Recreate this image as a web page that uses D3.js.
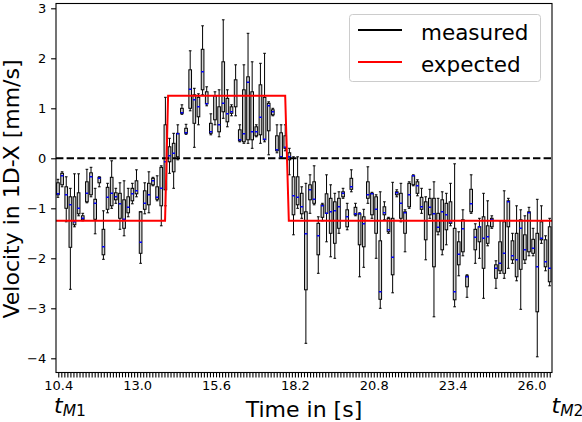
<!DOCTYPE html>
<html>
<head>
<meta charset="utf-8">
<script src="https://cdn.jsdelivr.net/npm/d3@7"></script>
<style>
	body { margin: 0; background: #fff; }
	text { font-family: 'DejaVu Sans', sans-serif; fill: #000; }
</style>
</head>
<body>
<div id="chart"></div>
<script>

// boxes start at 10.39 s, one every 0.1362 s
var boxStart = 10.39
var boxStep = 0.1362

var whiskLo = [
	-0.78, -0.57, -1.27, -2.62, -1.37, -1.15, -1.25, -0.89, -0.77, -1.51,
	-0.57, -2.02, -1.09, -1.00, -0.90, -1.42, -1.55, -1.17, -0.91, -0.77,
	-2.10, -1.11, -1.09, -0.55, -0.85, -1.35, -0.95, -0.30, -0.60, -0.03,
	0.88, 0.48, 0.95, 0.22, 0.67, 1.27, 1.05, 0.47, 0.67, 0.43,
	0.80, 0.63, 0.85, 0.85, 0.33, 0.30, 0.30, 0.20, 0.43, 0.30,
	0.33, 0.07, 0.85, 0.11, 0.00, 0.15, -0.33, -1.53, -1.00, -1.20,
	-3.70, -1.10, -0.93, -2.30, -1.25, -1.67, -1.97, -2.00, -1.50, -0.80,
	-1.43, -0.67, -1.15, -2.37, -2.18, -0.90, -1.20, -2.00, -3.00, -1.23,
	-1.50, -2.69, -0.77, -1.27, -1.87, -1.00, -0.55, -0.75, -1.10, -2.03,
	-1.20, -3.17, -1.53, -1.93, -1.73, -1.35, -2.97, -2.35, -1.95, -2.78,
	-1.10, -2.10, -2.00, -2.80, -1.75, -1.40, -2.60, -2.30, -2.40, -2.20,
	-2.10, -2.45, -3.02, -2.10, -1.95, -1.95, -3.97, -1.70, -2.25, -2.55
]

var q1 = [
	-0.73, -0.53, -1.00, -1.78, -1.33, -1.11, -1.23, -0.87, -0.73, -1.22,
	-0.49, -1.93, -1.02, -0.95, -0.83, -1.20, -1.40, -1.09, -0.85, -0.71,
	-1.90, -1.02, -0.93, -0.53, -0.82, -0.95, -0.63, -0.07, -0.27, 0.03,
	0.90, 0.50, 1.00, 0.70, 0.83, 1.37, 1.09, 0.50, 0.77, 0.53,
	0.93, 0.73, 0.90, 1.03, 0.35, 0.33, 0.37, 0.37, 0.45, 0.47,
	0.37, 0.55, 0.87, 0.15, 0.03, 0.20, -0.03, -1.13, -0.93, -1.11,
	-2.63, -0.83, -0.90, -1.93, -1.18, -1.10, -1.50, -1.70, -1.40, -0.77,
	-1.37, -0.62, -1.13, -1.73, -1.77, -0.80, -1.13, -1.50, -2.82, -1.13,
	-1.47, -2.33, -0.73, -1.20, -1.50, -0.97, -0.53, -0.70, -1.02, -1.63,
	-1.13, -2.17, -1.47, -1.83, -1.43, -1.30, -2.83, -2.13, -1.87, -2.57,
	-1.07, -1.83, -1.67, -2.20, -1.70, -1.37, -2.40, -2.25, -2.30, -1.37,
	-2.03, -2.37, -2.22, -2.03, -1.87, -1.90, -3.07, -1.63, -2.17, -2.47
]

var med = [
	-0.71, -0.35, -0.73, -0.93, -1.27, -1.00, -1.20, -0.70, -0.37, -0.90,
	-0.40, -1.77, -0.78, -0.70, -0.77, -0.91, -1.22, -0.98, -0.71, -0.65,
	-1.68, -0.90, -0.73, -0.45, -0.78, -0.60, -0.07, 0.05, 0.10, 0.49,
	0.91, 0.51, 1.38, 1.17, 1.03, 1.73, 1.09, 0.53, 1.25, 0.67,
	1.10, 0.89, 0.93, 1.25, 0.37, 0.49, 1.52, 0.53, 0.53, 0.82,
	0.38, 1.05, 0.93, 0.17, 0.03, 0.22, 0.03, -0.75, -0.78, -0.97,
	-1.51, -0.63, -0.82, -1.55, -0.95, -1.10, -1.07, -1.05, -0.97, -0.70,
	-1.17, -0.57, -1.11, -1.11, -1.31, -0.73, -0.71, -1.02, -2.67, -1.09,
	-1.43, -1.98, -0.69, -0.90, -1.09, -0.73, -0.35, -0.55, -0.97, -1.25,
	-0.98, -1.11, -1.38, -1.07, -1.13, -1.27, -2.67, -1.92, -1.41, -2.37,
	-0.91, -1.58, -1.37, -1.60, -1.57, -1.23, -2.20, -2.10, -1.90, -0.87,
	-1.95, -2.03, -1.40, -1.83, -1.09, -1.80, -2.17, -1.60, -2.07, -2.20
]

var q3 = [
	-0.49, -0.30, -0.57, -0.77, -0.77, -0.69, -1.15, -0.47, -0.29, -0.82,
	-0.38, -1.42, -0.58, -0.38, -0.69, -0.70, -0.83, -0.77, -0.60, -0.45,
	-1.07, -0.65, -0.50, -0.40, -0.57, -0.18, 0.67, 0.23, 0.30, 0.50,
	1.00, 0.60, 1.77, 1.27, 1.22, 2.18, 1.33, 0.70, 1.25, 1.03,
	1.93, 1.20, 1.03, 1.57, 0.57, 1.37, 1.63, 1.33, 0.63, 1.47,
	1.22, 1.10, 0.97, 0.45, 0.51, 0.45, 0.11, -0.37, -0.37, -0.70,
	-1.07, -0.53, -0.47, -1.30, -0.93, -0.71, -0.80, -0.87, -0.80, -0.67,
	-1.03, -0.40, -0.98, -1.11, -1.17, -0.47, -0.70, -0.77, -1.65, -0.97,
	-1.20, -1.20, -0.67, -0.70, -1.07, -0.50, -0.35, -0.47, -0.78, -0.87,
	-0.80, -0.80, -1.10, -0.83, -0.90, -0.87, -1.40, -1.67, -1.23, -2.35,
	-0.62, -1.42, -1.37, -1.17, -1.35, -1.20, -2.13, -1.67, -1.27, -0.85,
	-1.65, -1.50, -1.23, -1.53, -1.07, -1.62, -1.50, -1.27, -1.63, -1.37
]

var whiskHi = [
	-0.42, -0.27, -0.37, -0.60, -0.31, -0.31, -1.10, -0.22, -0.18, -0.60,
	-0.37, -1.05, -0.50, -0.05, -0.60, -0.49, -0.45, -0.60, -0.50, -0.23,
	-1.07, -0.49, -0.27, -0.38, -0.35, -0.15, 1.22, 0.40, 0.50, 0.67,
	1.07, 0.68, 2.15, 1.40, 1.29, 2.65, 1.43, 0.89, 1.33, 1.37,
	2.77, 1.37, 1.07, 1.87, 0.67, 1.87, 2.50, 1.93, 0.67, 1.90,
	2.10, 1.13, 1.00, 0.67, 0.67, 0.67, 0.20, 0.03, 0.03, -0.57,
	-0.50, -0.33, -0.15, -1.17, -0.90, -0.33, -0.53, -0.70, -0.67, -0.60,
	-0.90, -0.23, -0.90, -1.09, -1.02, -0.17, -0.68, -0.73, -0.67, -0.87,
	-1.18, -0.48, -0.63, -0.50, -1.03, -0.47, -0.33, -0.43, -0.60, -0.77,
	-0.62, -0.47, -0.80, -0.67, -0.70, -0.50, -0.11, -1.47, -1.03, -2.33,
	-0.33, -1.31, -1.20, -0.70, -0.85, -1.15, -2.05, -1.25, -0.65, -0.80,
	-1.50, -0.95, -1.03, -1.15, -0.98, -1.40, -0.82, -0.95, -1.55, -1.20
]

// expected velocity profile
var expectedTime = [10.325, 13.92, 14.02, 17.88, 18.0, 26.675]
var expectedVel = [-1.25, -1.25, 1.25, 1.25, -1.25, -1.25]

// x ticks every 0.1 s, labelled every 26th
var tickStart = 10.4, tickStep = 0.1, tickCount = 163
var xTickLabels = ['10.4', '13.0', '15.6', '18.2', '20.8', '23.4', '26.0']
var yTicks = [-4, -3, -2, -1, 0, 1, 2, 3]
var legendNames = ['measured', 'expected']
var legendColors = ['#000', 'red']

var width = 582, height = 422
var plot = {left: 56, right: 552, top: 3.5, bottom: 372.5}

var svg = d3.select('#chart').append('svg')
	.attr('width', width)
	.attr('height', height)

var x = d3.scaleLinear()
	.domain([10.325, 26.675])
	.range([plot.left, plot.right])

var y = d3.scaleLinear()
	.domain([-4.284, 3.096])
	.range([plot.bottom, plot.top])

var boxes = whiskLo.map(function(d, i) {
	return {t: boxStart + i * boxStep, lo: d, q1: q1[i], med: med[i], q3: q3[i], hi: whiskHi[i]}
})

var half = (x(0.088) - x(0)) / 2

svg.append('clipPath').attr('id', 'plotclip')
	.append('rect')
	.attr('x', plot.left).attr('y', plot.top)
	.attr('width', plot.right - plot.left).attr('height', plot.bottom - plot.top)

var g = svg.append('g').attr('clip-path', 'url(#plotclip)')

var box = g.selectAll('.box')
	.data(boxes)
	.enter().append('g')
	.attr('class', 'box')

box.append('rect')
	.attr('x', function(d) { return x(d.t) - half })
	.attr('y', function(d) { return y(d.q3) })
	.attr('width', half * 2)
	.attr('height', function(d) { return Math.max(y(d.q1) - y(d.q3), 0.5) })
	.style('fill', '#d3d3d3')
	.style('stroke', '#000')
	.style('stroke-width', 1)

box.append('line')
	.attr('x1', function(d) { return x(d.t) })
	.attr('x2', function(d) { return x(d.t) })
	.attr('y1', function(d) { return y(d.q3) })
	.attr('y2', function(d) { return y(d.hi) })
	.style('stroke', '#000')
	.style('stroke-width', 1)

box.append('line')
	.attr('x1', function(d) { return x(d.t) })
	.attr('x2', function(d) { return x(d.t) })
	.attr('y1', function(d) { return y(d.q1) })
	.attr('y2', function(d) { return y(d.lo) })
	.style('stroke', '#000')
	.style('stroke-width', 1)

box.selectAll('.cap')
	.data(function(d) { return [{t: d.t, v: d.lo}, {t: d.t, v: d.hi}] })
	.enter().append('line')
	.attr('class', 'cap')
	.attr('x1', function(d) { return x(d.t) - half })
	.attr('x2', function(d) { return x(d.t) + half })
	.attr('y1', function(d) { return y(d.v) })
	.attr('y2', function(d) { return y(d.v) })
	.style('stroke', '#000')
	.style('stroke-width', 1)

box.append('line')
	.attr('x1', function(d) { return x(d.t) - half })
	.attr('x2', function(d) { return x(d.t) + half })
	.attr('y1', function(d) { return y(d.med) })
	.attr('y2', function(d) { return y(d.med) })
	.style('stroke', '#0000ff')
	.style('stroke-width', 1.5)

// zero line
g.append('line')
	.attr('x1', x(10.325)).attr('x2', x(26.675))
	.attr('y1', y(0)).attr('y2', y(0))
	.style('stroke', '#000')
	.style('stroke-width', 2)
	.style('stroke-dasharray', '7.4,3.2')

var expected = expectedTime.map(function(t, i) { return [t, expectedVel[i]] })

g.append('path')
	.datum(expected)
	.attr('d', d3.line().x(function(d) { return x(d[0]) }).y(function(d) { return y(d[1]) }))
	.style('fill', 'none')
	.style('stroke', 'red')
	.style('stroke-width', 2)

// axes
var xAxis = d3.axisBottom(x)
	.tickValues(d3.range(tickCount).map(function(i) { return tickStart + i * tickStep }))
	.tickSize(4.9)
	.tickFormat(function(d, i) { return i % 26 == 0 ? xTickLabels[i / 26] : '' })

svg.append('g')
	.attr('transform', 'translate(0,' + plot.bottom + ')')
	.call(xAxis)
	.call(function(a) {
		a.select('.domain').remove()
		a.selectAll('line').style('stroke-width', 1.1)
		a.selectAll('text').attr('y', 8.3).attr('dy', '0.71em')
			.style('font-size', '13px').style('font-family', 'DejaVu Sans')
	})

var yAxis = d3.axisLeft(y)
	.tickValues(yTicks)
	.tickSize(4.9)
	.tickFormat(function(d) { return d < 0 ? '\u2212' + Math.abs(d) : d })

svg.append('g')
	.attr('transform', 'translate(' + plot.left + ',0)')
	.call(yAxis)
	.call(function(a) {
		a.select('.domain').remove()
		a.selectAll('line').style('stroke-width', 1.1)
		a.selectAll('text').attr('x', -9.8)
			.style('font-size', '13px').style('font-family', 'DejaVu Sans')
	})

svg.append('rect')
	.attr('x', plot.left).attr('y', plot.top)
	.attr('width', plot.right - plot.left).attr('height', plot.bottom - plot.top)
	.style('fill', 'none')
	.style('stroke', '#000')
	.style('stroke-width', 1.1)

// labels
svg.append('text')
	.attr('x', (plot.left + plot.right) / 2)
	.attr('y', 417)
	.style('text-anchor', 'middle')
	.style('font-size', '22px')
	.text('Time in [s]')

svg.append('text')
	.attr('transform', 'translate(19,' + ((plot.top + plot.bottom) / 2 + 1) + ') rotate(-90)')
	.style('text-anchor', 'middle')
	.style('font-size', '22px')
	.text('Velocity in 1D-X [mm/s]')

function markLabel(px, sub) {
	var t = svg.append('text')
		.attr('x', px)
		.attr('y', 412.5)
		.style('font-size', '22px')
	t.append('tspan').style('font-style', 'italic').text('t')
	t.append('tspan').attr('dy', 3).style('font-size', '15.5px').style('font-style', 'italic').text('M')
	t.append('tspan').style('font-size', '15.5px').text(sub)
}
markLabel(54, '1')
markLabel(551.5, '2')

// legend
var legend = svg.append('g')

legend.append('rect')
	.attr('x', 349.5).attr('y', 14.5)
	.attr('width', 191).attr('height', 67)
	.attr('rx', 3)
	.style('fill', 'rgba(255,255,255,0.8)')
	.style('stroke', '#cccccc')
	.style('stroke-width', 1)

var item = legend.selectAll('.item')
	.data(legendNames)
	.enter().append('g')
	.attr('class', 'item')
	.attr('transform', function(d, i) { return 'translate(0,' + (30 + i * 32) + ')' })

item.append('line')
	.attr('x1', 358).attr('x2', 402)
	.style('stroke', function(d, i) { return legendColors[i] })
	.style('stroke-width', 2)

item.append('text')
	.attr('x', 421)
	.attr('y', 10)
	.style('font-size', '21.5px')
	.text(function(d) { return d })

</script>
</body>
</html>
